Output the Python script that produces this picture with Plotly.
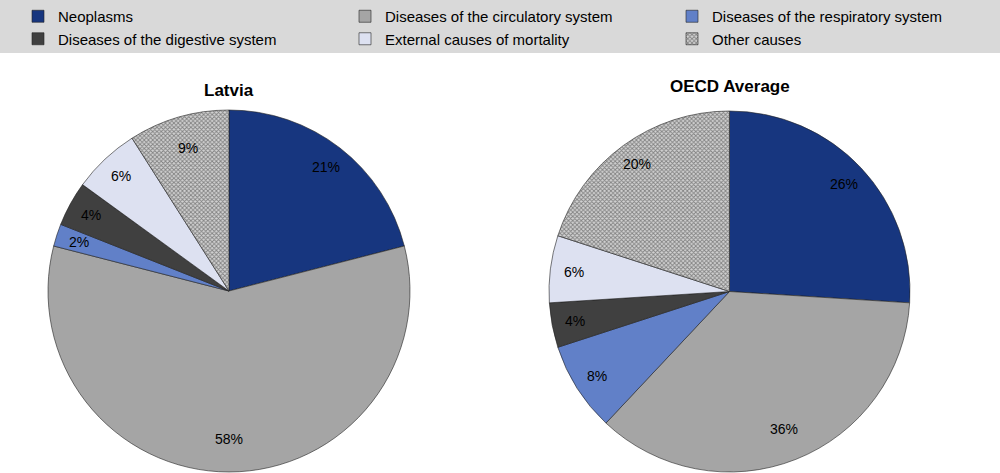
import math
import plotly.graph_objects as go

categories = ["Neoplasms", "Diseases of the circulatory system", "Diseases of the respiratory system",
              "Diseases of the digestive system", "External causes of mortality", "Other causes"]
latvia_values = [21, 58, 2, 4, 6, 9]
oecd_values = [26, 36, 8, 4, 6, 20]
titles = ["Latvia", "OECD Average"]
colors = ["#17367F", "#A5A5A5", "#6180C8", "#404040", "#DDE1F1", "#B8B8B8"]
patterns = ["", "", "", "", "", "x"]

W, H = 1000, 473
FONT = "Liberation Sans, Arial"

# pie boxes in pixels: (left, right, top, bottom)
boxes = [(48, 410, 110, 472), (549, 910, 111, 472)]
title_y = [91, 87]

fig = go.Figure()
for i, vals in enumerate([latvia_values, oecd_values]):
    x0, x1, yt, yb = boxes[i]
    fig.add_trace(go.Pie(
        labels=categories, values=vals, sort=False, direction="clockwise", rotation=0,
        domain=dict(x=[x0 / W, x1 / W], y=[(H - yb) / H, (H - yt) / H]),
        showlegend=(i == 0), textinfo="none",
        marker=dict(colors=colors, line=dict(color="#222222", width=0.6),
                    pattern=dict(shape=patterns, fgcolor="#303030", bgcolor="#D2D2D2",
                                 size=3, solidity=0.5, fillmode="overlay")),
        hoverinfo="label+value",
    ))
    # percentage labels placed near the outer edge (like the original)
    cx, cy = (x0 + x1) / 2, (yt + yb) / 2
    r = min(x1 - x0, yb - yt) / 2
    total = sum(vals)
    cum = 0
    for v in vals:
        mid = (cum + v / 2) / total * 2 * math.pi
        cum += v
        k = 0.87 if abs(math.cos(mid)) < 0.9 else 0.82
        px = cx + k * r * math.sin(mid)
        py = cy - k * r * math.cos(mid)
        fig.add_annotation(text=f"{v}%", x=px / W, y=(H - py) / H, xref="paper", yref="paper",
                           xanchor="center", yanchor="middle", showarrow=False,
                           font=dict(family=FONT, size=14, color="black"))
    fig.add_annotation(text=f"<b>{titles[i]}</b>", x=cx / W, y=(H - title_y[i]) / H,
                       xref="paper", yref="paper", xanchor="center", yanchor="middle",
                       showarrow=False, font=dict(family=FONT, size=17, color="black"))

fig.add_shape(type="rect", xref="paper", yref="paper", x0=0, x1=1,
              y0=(H - 53) / H, y1=1, fillcolor="#D9D9D9", line=dict(width=0), layer="below")

fig.update_layout(
    width=W, height=H, margin=dict(l=0, r=0, t=0, b=0),
    paper_bgcolor="white", plot_bgcolor="white",
    legend=dict(orientation="h", x=0.018, y=1.0, xanchor="left", yanchor="top",
                entrywidth=282, entrywidthmode="pixels", bgcolor="rgba(0,0,0,0)",
                font=dict(family=FONT, size=15, color="black"),
                traceorder="normal"),
)
fig.write_html("out.html", config={"displayModeBar": False},
               post_script="document.body.style.margin='0';")
